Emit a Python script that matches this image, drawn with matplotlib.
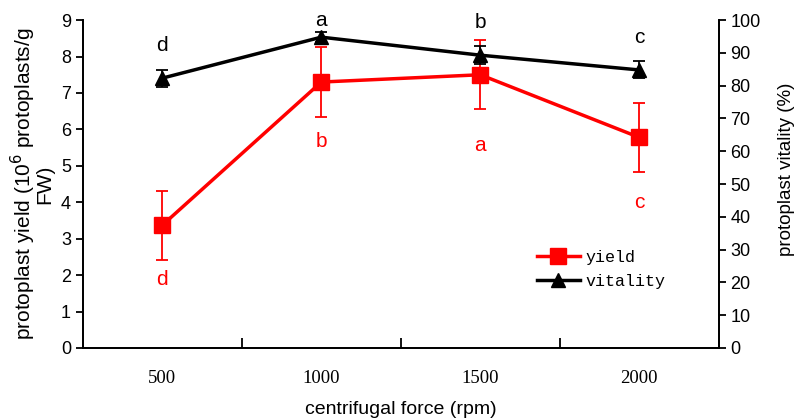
import matplotlib.pyplot as plt
from matplotlib.lines import Line2D
import numpy as np

forces = ['500', '1000', '1500', '2000']
yield_mean = [3.37, 7.30, 7.50, 5.78]
yield_err = [0.95, 0.95, 0.95, 0.95]
vitality_mean = [82.3, 94.8, 89.3, 84.8]
vitality_err = [2.6, 1.5, 2.8, 2.6]
yield_letters = ['d', 'b', 'a', 'c']
yield_letter_y = [1.87, 5.68, 5.57, 3.98]
vitality_letters = ['d', 'a', 'b', 'c']
vitality_letter_y = [92.4, 100.0, 99.4, 94.6]

plt.rcParams['font.family'] = ['Liberation Sans', 'DejaVu Sans']

fig = plt.figure(figsize=(7.96, 4.19), dpi=100)
ax1 = fig.add_axes([0.104, 0.1695, 0.799, 0.7825])
ax2 = ax1.twinx()

x = np.arange(len(forces)) + 0.5

# yield line (left axis)
ax1.errorbar(x, yield_mean, yerr=yield_err, color='red', lw=2.5, marker='s', ms=11,
             capsize=4, elinewidth=1.3, capthick=1.3, zorder=3)
for xi, y, t in zip(x, yield_letter_y, yield_letters):
    ax1.text(xi, y, t, ha='center', va='center', color='red', fontsize=15)

# vitality line (right axis)
ax2.errorbar(x, vitality_mean, yerr=vitality_err, color='black', lw=2.5, marker='^', ms=10,
             capsize=4, elinewidth=1.3, capthick=1.3, zorder=3)
for xi, y, t in zip(x, vitality_letter_y, vitality_letters):
    ax2.text(xi, y, t, ha='center', va='center', color='black', fontsize=15, clip_on=False)

ax1.set_xlim(0, 4)
ax1.set_ylim(0, 9)
ax2.set_ylim(0, 100)
ax1.set_yticks(range(0, 10))
ax2.set_yticks(range(0, 101, 10))

ax1.set_xticks(x)
ax1.set_xticklabels(forces, family='Liberation Serif', fontsize=13.5)
ax1.set_xticks([1, 2, 3], minor=True)
ax1.tick_params(axis='x', which='major', length=0, pad=16)
ax1.tick_params(axis='x', which='minor', direction='in', length=7, width=1.3)
ax1.tick_params(axis='y', labelsize=13, length=5, width=1.3)
ax2.tick_params(axis='y', labelsize=13, length=5, width=1.3)

for ax in (ax1, ax2):
    ax.spines['top'].set_visible(False)
    for s in ('left', 'right', 'bottom'):
        ax.spines[s].set_linewidth(1.3)

ax1.set_xlabel('centrifugal force (rpm)', fontsize=14, labelpad=10)
ax1.set_ylabel('protoplast yield (10$^6$ protoplasts/g\nFW)', fontsize=15,
               labelpad=5, linespacing=0.8)
ax2.set_ylabel('protoplast vitality (%)', fontsize=13.5)
ax2.yaxis.label.set(ha='center', va='center', rotation_mode='default')
ax2.yaxis.set_label_coords(1.106, 0.545)

handles = [Line2D([], [], color='red', lw=2.5, marker='s', ms=11),
           Line2D([], [], color='black', lw=2.5, marker='^', ms=10)]
ax1.legend(handles, ['yield', 'vitality'], loc='upper left', bbox_to_anchor=(0.69, 0.345),
           frameon=False, prop={'family': 'Liberation Mono', 'size': 12},
           handlelength=2.6, handletextpad=0.35, labelspacing=0.55)

plt.savefig('out.png', dpi=100)
